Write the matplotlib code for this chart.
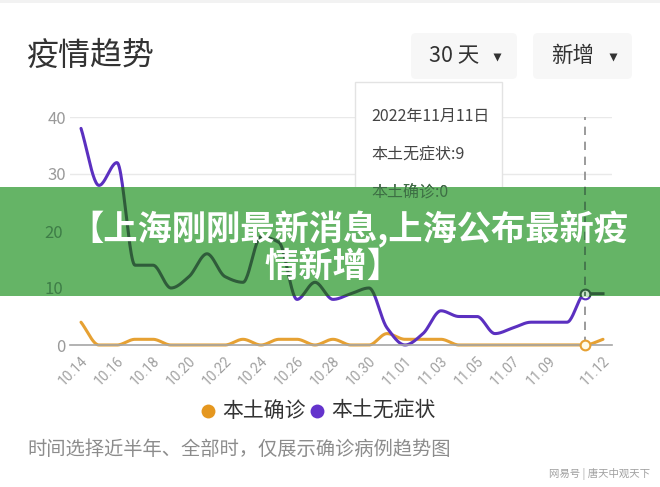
import numpy as np
import matplotlib
matplotlib.use('Agg')
import matplotlib.pyplot as plt
from matplotlib.patches import Rectangle, FancyBboxPatch

plt.rcParams['font.family'] = ['Noto Sans CJK SC', 'DejaVu Sans']

# ---------------- data ----------------
dates = ['10.14', '10.15', '10.16', '10.17', '10.18', '10.19', '10.20', '10.21',
         '10.22', '10.23', '10.24', '10.25', '10.26', '10.27', '10.28', '10.29',
         '10.30', '10.31', '11.01', '11.02', '11.03', '11.04', '11.05', '11.06',
         '11.07', '11.08', '11.09', '11.10', '11.11', '11.12']
confirmed = [4, 0, 0, 1, 1, 0, 0, 0, 0, 1, 0, 1, 1, 0, 1, 0, 0, 2, 1, 1,
             1, 0, 0, 0, 0, 0, 0, 0, 0, 1]
asymptomatic = [38, 28, 32, 14, 14, 10, 12, 16, 12, 11, 19, 18, 8, 11, 8, 9,
                10, 3, 0, 2, 6, 5, 5, 2, 3, 4, 4, 4, 9, 9]
label_idx = [0, 2, 4, 6, 8, 10, 12, 14, 16, 18, 20, 22, 24, 26, 29]
y_ticks = [0, 10, 20, 30, 40]
series_names = ['本土确诊', '本土无症状']
tip_idx = 28

ORANGE = '#e6a133'
PURPLE = '#5b30c0'
GREEN = '#65b466'
GHOST = '#2f5c3a'

W, H = 660, 487
fig = plt.figure(figsize=(W / 100, H / 100), dpi=100)
fig.patch.set_facecolor('white')


def px_axes(z):
    a = fig.add_axes([0, 0, 1, 1], zorder=z)
    a.set_xlim(0, W)
    a.set_ylim(H, 0)
    a.axis('off')
    a.patch.set_alpha(0)
    return a


def smooth(xs, ys, n=24):
    xs = np.asarray(xs, float)
    ys = np.asarray(ys, float)
    h = np.diff(xs)
    d = np.diff(ys) / h
    m = np.zeros_like(ys)
    m[0], m[-1] = d[0], d[-1]
    for k in range(1, len(ys) - 1):
        if d[k - 1] * d[k] <= 0:
            m[k] = 0
        else:
            m[k] = 2 / (1 / d[k - 1] + 1 / d[k])
    X, Y = [], []
    for k in range(len(xs) - 1):
        t = np.linspace(0, 1, n, endpoint=False)
        h00 = 2 * t**3 - 3 * t**2 + 1
        h10 = t**3 - 2 * t**2 + t
        h01 = -2 * t**3 + 3 * t**2
        h11 = t**3 - t**2
        X.append(xs[k] + t * h[k])
        Y.append(h00 * ys[k] + h10 * h[k] * m[k] + h01 * ys[k + 1] + h11 * h[k] * m[k + 1])
    X.append([xs[-1]])
    Y.append([ys[-1]])
    return np.concatenate(X), np.concatenate(Y)


x = np.arange(len(dates))
xc, yc = smooth(x, confirmed)
xa, ya = smooth(x, asymptomatic)

# axes geometry (pixels)
L, R, T, B = 70, 612, 117, 345
pos = [L / W, (H - B) / H, (R - L) / W, (B - T) / H]
xlim = (-(81 - L) / 18.0, 29 + (R - 603) / 18.0)

# ---------------- background texts ----------------
bg = px_axes(0)
bg.add_patch(Rectangle((0, 0), W, 3, color='#f2f2f2', lw=0))
bg.text(27, 56, '疫情趋势', fontsize=23, color='#333333', va='center', ha='left')
for (x0, x1, lab, tx, trx) in [(411, 517, '30 天', 429, 497), (533, 632, '新增', 551, 613)]:
    bg.add_patch(FancyBboxPatch((x0, 33), x1 - x0, 46,
                                boxstyle='round,pad=0,rounding_size=5',
                                fc='#f7f7f7', ec='none'))
    bg.text(tx, 56, lab, fontsize=15.5, color='#333333', va='center', ha='left')
    bg.plot([trx], [57], marker='v', ms=6, color='#333333', mec='none')

bg.plot([208], [411], 'o', ms=10, color='#e5971f', mec='none')
bg.text(222, 411, series_names[0], fontsize=15, color='#333333', va='center', ha='left')
bg.plot([317], [411], 'o', ms=10, color='#6433cc', mec='none')
bg.text(331, 411, series_names[1], fontsize=15, color='#333333', va='center', ha='left')
bg.text(27, 449, '时间选择近半年、全部时，仅展示确诊病例趋势图', fontsize=13.9,
        color='#8c8c8c', va='center', ha='left')
bg.text(650, 474, '网易号 | 唐天中观天下', fontsize=7.5, color='#a0a0a0',
        va='center', ha='right')

# ---------------- main chart ----------------
ax = fig.add_axes(pos, zorder=1)
ax.patch.set_alpha(0)
ax.set_xlim(*xlim)
ax.set_ylim(0, 40)
for s in ['top', 'right', 'left']:
    ax.spines[s].set_visible(False)
ax.spines['bottom'].set_color('#a6a6a6')
ax.spines['bottom'].set_linewidth(1.2)
ax.set_yticks(y_ticks)
# labels 10 and 20 lie under the banner; they are drawn on the see-through layer
ax.set_yticklabels([str(v) if v not in (10, 20) else '' for v in y_ticks],
                   fontsize=12, color='#9a9a9a')
ax.yaxis.grid(True, color='#e9e9e9', lw=1)
ax.set_axisbelow(True)
ax.tick_params(axis='y', length=0, pad=3)
ax.set_xticks(label_idx)
ax.set_xticklabels([dates[i] for i in label_idx], rotation=45, ha='right',
                   va='top', rotation_mode='anchor', fontsize=10, color='#a0a0a0')
ax.tick_params(axis='x', length=0, pad=6)
for lab in ax.get_xticklabels():
    lab.set_family(['Roboto', 'DejaVu Sans'])

ax.axvline(tip_idx, color='#8a8a8a', lw=1.2, ls=(0, (5, 4)), ymax=1.0)
ax.plot(xc, yc, color=ORANGE, lw=2.2, solid_capstyle='round', clip_on=False)
ax.plot(xa, ya, color=PURPLE, lw=2.2, solid_capstyle='round', clip_on=False)
ax.plot([tip_idx], [confirmed[tip_idx]], 'o', ms=7, mfc='#fffbe8', mec=ORANGE,
        mew=1.5, clip_on=False, zorder=5)
ax.plot([tip_idx], [asymptomatic[tip_idx]], 'o', ms=7, mfc='white', mec=PURPLE,
        mew=1.5, clip_on=False, zorder=5)

# ---------------- tooltip ----------------
tip = px_axes(2)
tip.add_patch(Rectangle((355, 82), 147, 133, fc='white', ec='#e3e3e3', lw=1))
tip.text(371, 116, '2022年11月11日', fontsize=11.5, color='#444444', va='center')
tip.text(371, 155, f'{series_names[1]}:{asymptomatic[tip_idx]}', fontsize=11.5,
         color='#444444', va='center')
tip.text(371, 193, f'{series_names[0]}:{confirmed[tip_idx]}', fontsize=11.5,
         color='#444444', va='center')

# ---------------- banner ----------------
BT, BB = 187, 296
ban = px_axes(3)
ban.add_patch(Rectangle((0, BT), W, BB - BT, fc=GREEN, ec='none'))

# see-through layer: chart seen through the banner
gh = fig.add_axes(pos, zorder=4)
gh.patch.set_alpha(0)
gh.set_xlim(*xlim)
gh.set_ylim(0, 40)
for s in gh.spines.values():
    s.set_visible(False)
gh.set_xticks([])
gh.set_yticks([10, 20])
gh.set_yticklabels(['10', '20'], fontsize=12, color='#3e7d47')
gh.tick_params(axis='y', length=0, pad=5)
clip = Rectangle((0, (H - BB) / H), 1, (BB - BT) / H, transform=fig.transFigure,
                 fc='none', ec='none')
for line in [gh.plot(xa, ya, color=GHOST, lw=2.2, clip_on=True)[0],
             gh.plot(xc, yc, color=GHOST, lw=2.2, clip_on=True)[0]]:
    line.set_clip_path(clip)
mk = gh.plot([tip_idx], [asymptomatic[tip_idx]], 'o', ms=7, mfc='#c8e4c8',
             mec=GHOST, mew=1.5)[0]
mk.set_clip_path(clip)
vl = gh.axvline(tip_idx, color='#3f6e48', lw=1.2, ls=(0, (5, 4)))
vl.set_clip_path(clip)

ghp = px_axes(4.5)
gt = ghp.text(371, 193, f'{series_names[0]}:{confirmed[tip_idx]}', fontsize=11.5,
              color='#3d6e44', va='center')
gt.set_clip_path(clip)

top = px_axes(5)
top.text(349, 229, '【上海刚刚最新消息,上海公布最新疫', fontsize=24.7, color='white',
         fontweight=900, ha='center', va='center')
top.text(333, 266, '情新增】', fontsize=24.7, color='white',
         fontweight=900, ha='center', va='center')

fig.savefig('out.png', dpi=100)
